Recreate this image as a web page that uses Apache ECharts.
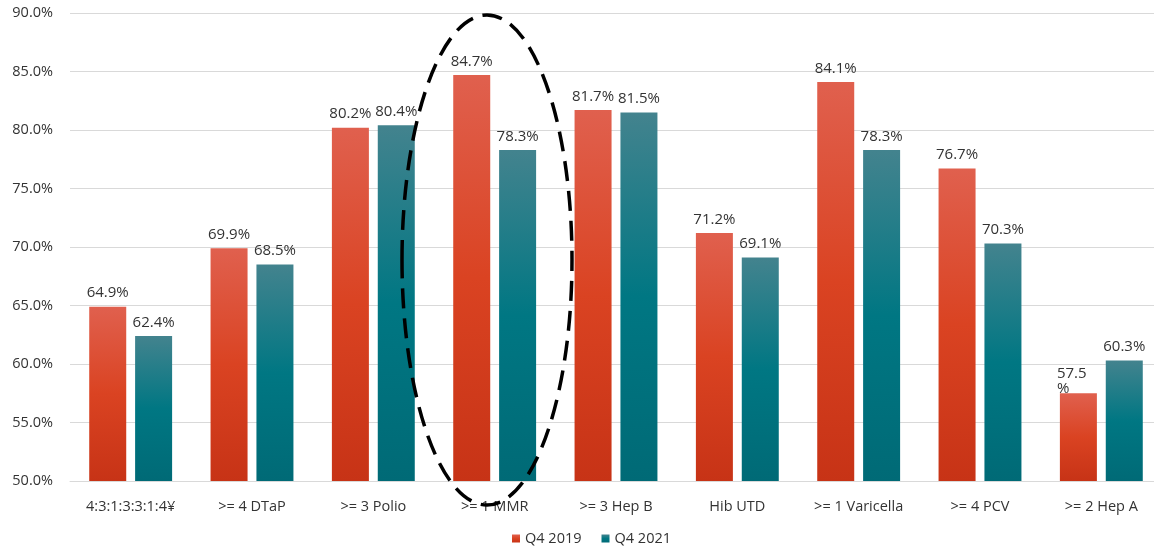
<!DOCTYPE html>
<html>
<head>
<meta charset="utf-8">
<script src="https://cdn.jsdelivr.net/npm/echarts@6/dist/echarts.min.js"></script>
<style>
  html, body { margin: 0; padding: 0; background: #fff; overflow: hidden; }
  #main { width: 1162px; height: 548px; }
</style>
</head>
<body>
<div id="main"></div>
<script>
// categories and values
var categories = ['4:3:1:3:3:1:4¥', '>= 4 DTaP', '>= 3 Polio', '>= 1 MMR', '>= 3 Hep B', 'Hib UTD', '>= 1 Varicella', '>= 4 PCV', '>= 2 Hep A'];
var q42019 = [64.9, 69.9, 80.2, 84.7, 81.7, 71.2, 84.1, 76.7, 57.5];
var q42021 = [62.4, 68.5, 80.4, 78.3, 81.5, 69.1, 78.3, 70.3, 60.3];
var yTicks = [50, 55, 60, 65, 70, 75, 80, 85, 90];

var chart = echarts.init(document.getElementById('main'));
var font = '"Open Sans", "Noto Sans", sans-serif';

var redGrad = new echarts.graphic.LinearGradient(0, 0, 0, 1, [
  { offset: 0, color: '#e0604e' },
  { offset: 0.5, color: '#da4322' },
  { offset: 1, color: '#c73316' }
]);
var tealGrad = new echarts.graphic.LinearGradient(0, 0, 0, 1, [
  { offset: 0, color: '#43838e' },
  { offset: 0.5, color: '#007783' },
  { offset: 1, color: '#006a76' }
]);

var option = {
  animation: false,
  textStyle: { fontFamily: font },
  // plot area runs a little past the right edge of the window, as in the original
  grid: { left: 70, right: 0, top: 13, bottom: 67 },
  legend: {
    top: 526,
    left: 507,
    itemWidth: 8,
    itemHeight: 8,
    itemGap: 20,
    icon: 'rect',
    textStyle: { fontSize: 14.5, color: '#333', fontFamily: font },
    data: ['Q4 2019', 'Q4 2021']
  },
  xAxis: {
    type: 'category',
    data: categories,
    axisTick: { show: false },
    axisLine: { lineStyle: { color: '#d9d9d9' } },
    axisLabel: { fontSize: 14.5, color: '#333', margin: 18, interval: 0 }
  },
  yAxis: {
    type: 'value',
    min: yTicks[0],
    max: yTicks[yTicks.length - 1],
    interval: 5,
    axisLine: { show: false },
    axisTick: { show: false },
    splitLine: { lineStyle: { color: '#d9d9d9' } },
    axisLabel: {
      fontSize: 14.5, color: '#333', margin: 17,
      formatter: function (v) { return v.toFixed(1) + '%'; }
    }
  },
  series: [
    {
      name: 'Q4 2019',
      type: 'bar',
      data: q42019,
      barWidth: 37,
      barGap: '24%',
      itemStyle: { color: redGrad },
      label: {
        show: true,
        position: 'top',
        distance: 6,
        fontSize: 15,
        color: '#333',
        formatter: function (p) {
          // the last label wraps in the original
          if (p.dataIndex === q42019.length - 1) return p.value.toFixed(1) + '\n%';
          return p.value.toFixed(1) + '%';
        }
      },
      labelLayout: function (p) {
        if (p.dataIndex === q42019.length - 1) {
          return { x: p.rect.x - 3, y: p.rect.y - 27, align: 'left', verticalAlign: 'top' };
        }
      }
    },
    {
      name: 'Q4 2021',
      type: 'bar',
      data: q42021,
      barWidth: 37,
      itemStyle: { color: tealGrad },
      label: {
        show: true,
        position: 'top',
        distance: 6,
        fontSize: 15,
        color: '#333',
        formatter: function (p) { return p.value.toFixed(1) + '%'; }
      }
    }
  ],
  graphic: [
    {
      type: 'ellipse',
      shape: { cx: 487, cy: 260, rx: 85, ry: 245 },
      style: { fill: 'none', stroke: '#000', lineWidth: 3.5, lineDash: [20, 10] },
      z: 100
    }
  ]
};

chart.setOption(option);
</script>
</body>
</html>
